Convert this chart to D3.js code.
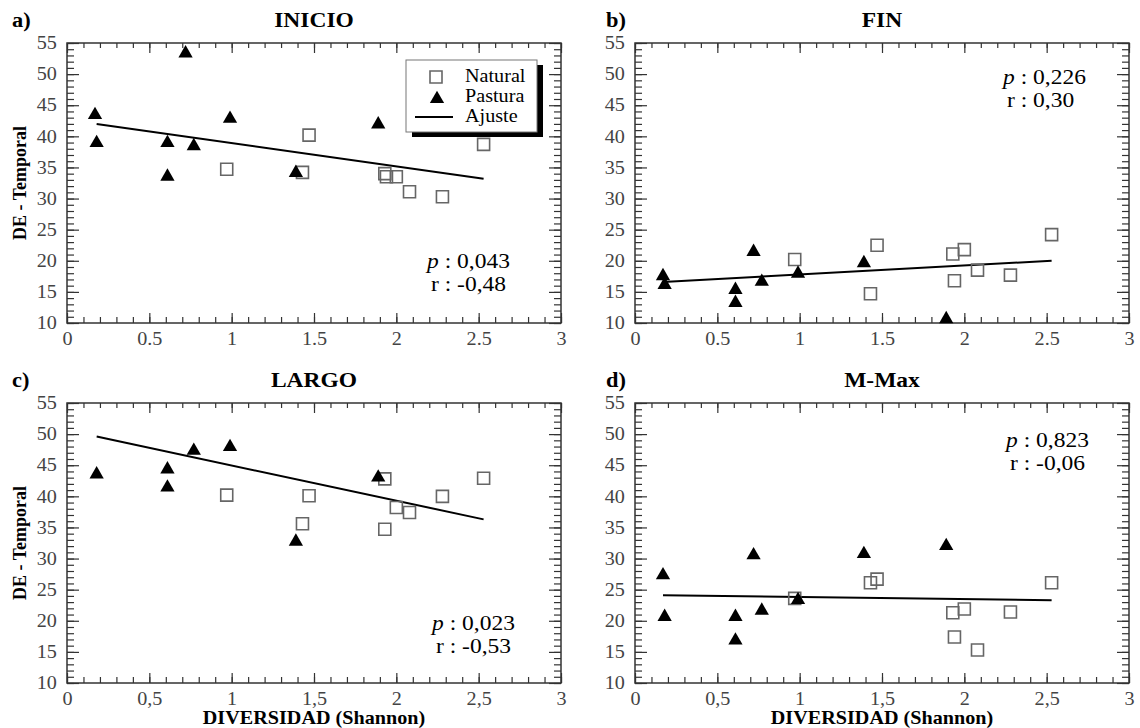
<!DOCTYPE html>
<html>
<head>
<meta charset="utf-8">
<script src="https://cdn.jsdelivr.net/npm/d3@7"></script>
<style>
  body { margin: 0; background: #fff; }
  text { font-family: "Liberation Serif", "Times New Roman", serif; }
</style>
</head>
<body>
<svg id="chart" width="1140" height="728"></svg>
<script>
// values: [diversity, DE-Temporal]
var inicioNatural = [[0.97,34.7],[1.43,34.2],[1.47,40.2],[1.93,34.0],[1.94,33.5],[2.00,33.5],[2.08,31.1],[2.28,30.3],[2.53,38.7]];
var inicioPastura = [[0.17,43.6],[0.18,39.1],[0.61,39.1],[0.61,33.7],[0.72,53.5],[0.77,38.6],[0.99,43.0],[1.39,34.3],[1.89,42.1]];
var inicioFit = [[0.18,42.0],[2.53,33.2]];

var finNatural = [[0.97,20.2],[1.43,14.7],[1.47,22.5],[1.93,21.1],[1.94,16.8],[2.00,21.8],[2.08,18.5],[2.28,17.7],[2.53,24.2]];
var finPastura = [[0.17,17.7],[0.18,16.3],[0.61,15.5],[0.61,13.4],[0.72,21.6],[0.77,16.8],[0.99,18.1],[1.39,19.8],[1.89,10.8]];
var finFit = [[0.17,16.6],[2.53,20.0]];

var largoNatural = [[0.97,40.2],[1.43,35.6],[1.47,40.1],[1.93,42.8],[1.93,34.7],[2.00,38.2],[2.08,37.4],[2.28,40.0],[2.53,42.9]];
var largoPastura = [[0.18,43.7],[0.61,44.5],[0.61,41.6],[0.77,47.5],[0.99,48.1],[1.39,32.9],[1.89,43.2]];
var largoFit = [[0.18,49.6],[2.53,36.3]];

var mmaxNatural = [[0.97,23.6],[1.43,26.1],[1.47,26.7],[1.93,21.3],[1.94,17.4],[2.00,21.9],[2.08,15.3],[2.28,21.4],[2.53,26.1]];
var mmaxPastura = [[0.17,27.5],[0.18,20.8],[0.61,20.8],[0.61,17.0],[0.72,30.7],[0.77,21.8],[0.99,23.5],[1.39,30.9],[1.89,32.2]];
var mmaxFit = [[0.17,24.1],[2.53,23.3]];

var xTicks = [0, 0.5, 1, 1.5, 2, 2.5, 3];
var xLabelsDot = ["0", "0.5", "1", "1.5", "2", "2.5", "3"];
var xLabelsComma = ["0", "0,5", "1", "1,5", "2", "2,5", "3"];
var yTicks = [10, 15, 20, 25, 30, 35, 40, 45, 50, 55];

var titles = ["INICIO", "FIN", "LARGO", "M-Max"];
var letters = ["a)", "b)", "c)", "d)"];
var pValues = ["0,043", "0,226", "0,023", "0,823"];
var rValues = ["-0,48", "0,30", "-0,53", "-0,06"];
var legendLabels = ["Natural", "Pastura", "Ajuste"];

var svg = d3.select("#chart");
var SX = 1.12; // text in the scan is a bit wider than it is tall

var W = 494, H = 280;
var panels = [
  {left: 67,  top: 43,  nat: inicioNatural, pas: inicioPastura, fit: inicioFit, xl: xLabelsDot,   ylab: true,  xlab: false, letterX: 12,  statX: 427, statY: 268, legend: true},
  {left: 635, top: 43,  nat: finNatural,    pas: finPastura,    fit: finFit,    xl: xLabelsDot,   ylab: false, xlab: false, letterX: 606, statX: 1003, statY: 84},
  {left: 67,  top: 403, nat: largoNatural,  pas: largoPastura,  fit: largoFit,  xl: xLabelsComma, ylab: true,  xlab: true,  letterX: 12,  statX: 432, statY: 630},
  {left: 635, top: 403, nat: mmaxNatural,   pas: mmaxPastura,   fit: mmaxFit,   xl: xLabelsComma, ylab: false, xlab: true,  letterX: 606, statX: 1006, statY: 447}
];

function stretchText(sel, x, y) {
  return sel.attr("transform", "translate(" + x + "," + y + ") scale(" + SX + ",1)");
}

function styleAxis(g) {
  g.select(".domain").remove();
  g.selectAll(".tick line").attr("stroke", "#333").attr("stroke-width", 1.2);
  g.attr("font-family", null).attr("font-size", 18);
  g.selectAll(".tick text").attr("fill", "#444").attr("transform", "scale(" + SX + ",1)");
}

var square = d3.symbol(d3.symbolSquare, 144);
var triangle = d3.symbol(d3.symbolTriangle, 88);

panels.forEach(function(p, i) {
  var x = d3.scaleLinear().domain([0, 3]).range([p.left, p.left + W]);
  var y = d3.scaleLinear().domain([10, 55]).range([p.top + H, p.top]);
  var g = svg.append("g");

  var xMinor = d3.range(0, 31).map(function(d) { return d / 10; });
  var yMinor = d3.range(10, 56);

  // ticks, all pointing inward
  g.append("g").attr("transform", "translate(0," + (p.top + H) + ")")
    .call(d3.axisBottom(x).tickValues(xMinor).tickSize(-6).tickFormat("")).call(styleAxis);
  g.append("g").attr("transform", "translate(0," + (p.top + H) + ")")
    .call(d3.axisBottom(x).tickValues(xTicks).tickSize(-10).tickPadding(9)
      .tickFormat(function(d, k) { return p.xl[k]; })).call(styleAxis);
  g.append("g").attr("transform", "translate(0," + p.top + ")")
    .call(d3.axisTop(x).tickValues(xMinor).tickSize(-5).tickFormat("")).call(styleAxis);
  g.append("g").attr("transform", "translate(0," + p.top + ")")
    .call(d3.axisTop(x).tickValues(xTicks).tickSize(-10).tickFormat("")).call(styleAxis);
  g.append("g").attr("transform", "translate(" + p.left + ",0)")
    .call(d3.axisLeft(y).tickValues(yMinor).tickSize(-7).tickFormat("")).call(styleAxis);
  g.append("g").attr("transform", "translate(" + p.left + ",0)")
    .call(d3.axisLeft(y).tickValues(yTicks).tickSize(-12).tickPadding(9)).call(styleAxis);
  g.append("g").attr("transform", "translate(" + (p.left + W) + ",0)")
    .call(d3.axisRight(y).tickValues(yMinor).tickSize(-7).tickFormat("")).call(styleAxis);
  g.append("g").attr("transform", "translate(" + (p.left + W) + ",0)")
    .call(d3.axisRight(y).tickValues(yTicks).tickSize(-12).tickFormat("")).call(styleAxis);

  g.append("rect").attr("x", p.left).attr("y", p.top).attr("width", W).attr("height", H)
    .attr("fill", "none").attr("stroke", "#333").attr("stroke-width", 1.5);

  // fit line
  g.append("path").datum(p.fit)
    .attr("d", d3.line().x(function(d) { return x(d[0]); }).y(function(d) { return y(d[1]); }))
    .attr("fill", "none").attr("stroke", "#000").attr("stroke-width", 2);

  g.selectAll(".nat").data(p.nat).enter().append("path")
    .attr("class", "nat")
    .attr("d", square)
    .attr("transform", function(d) { return "translate(" + x(d[0]) + "," + y(d[1]) + ")"; })
    .attr("fill", "none").attr("stroke", "#666").attr("stroke-width", 1.6);

  g.selectAll(".pas").data(p.pas).enter().append("path")
    .attr("class", "pas")
    .attr("d", triangle)
    .attr("transform", function(d) { return "translate(" + x(d[0]) + "," + (y(d[1]) + 1) + ")"; })
    .attr("fill", "#000");

  // titles
  stretchText(g.append("text"), p.left + W / 2, p.top - 16)
    .attr("text-anchor", "middle").attr("font-weight", "bold").attr("font-size", 21).text(titles[i]);
  stretchText(g.append("text"), p.letterX, p.top - 16)
    .attr("font-weight", "bold").attr("font-size", 20).text(letters[i]);

  if (p.ylab) {
    g.append("text").attr("transform", "translate(26," + (p.top + H / 2) + ") rotate(-90)")
      .attr("text-anchor", "middle").attr("font-weight", "bold").attr("font-size", 18)
      .text("DE - Temporal");
  }
  if (p.xlab) {
    stretchText(g.append("text"), p.left + W / 2, 724)
      .attr("text-anchor", "middle").attr("font-weight", "bold").attr("font-size", 18)
      .text("DIVERSIDAD (Shannon)");
  }

  // p and r
  var pt = stretchText(g.append("text"), p.statX, p.statY).attr("font-size", 21);
  pt.append("tspan").attr("font-style", "italic").text("p");
  pt.append("tspan").text(" : " + pValues[i]);
  stretchText(g.append("text"), p.statX + 4, p.statY + 23).attr("font-size", 21)
    .text("r : " + rValues[i]);

  if (p.legend) {
    var lg = g.append("g").attr("transform", "translate(406,60)");
    lg.append("rect").attr("x", 6).attr("y", 5).attr("width", 131).attr("height", 72).attr("fill", "#000");
    lg.append("rect").attr("width", 131).attr("height", 72).attr("fill", "#fff")
      .attr("stroke", "#777").attr("stroke-width", 1);
    lg.append("path").attr("d", square).attr("transform", "translate(30,17)")
      .attr("fill", "none").attr("stroke", "#666").attr("stroke-width", 1.6);
    lg.append("path").attr("d", triangle).attr("transform", "translate(31,39)").attr("fill", "#000");
    lg.append("line").attr("x1", 9).attr("x2", 47).attr("y1", 57).attr("y2", 57)
      .attr("stroke", "#000").attr("stroke-width", 2);
    legendLabels.forEach(function(t, k) {
      stretchText(lg.append("text"), 59, 22 + k * 20).attr("font-size", 18).text(t);
    });
  }
});
</script>
</body>
</html>
